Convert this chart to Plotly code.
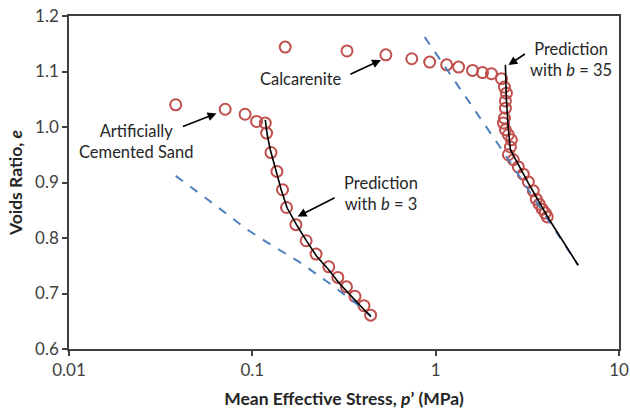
import numpy as np
import plotly.graph_objects as go

# Artificially cemented sand: measured compression data
acs_p = [0.0382, 0.0711, 0.0913, 0.1055, 0.1177, 0.1196, 0.1264, 0.1362, 0.1461,
         0.1536, 0.1728, 0.1966, 0.2227, 0.2612, 0.2926, 0.3263, 0.3629, 0.4062, 0.4417]
acs_e = [1.040, 1.032, 1.023, 1.010, 1.007, 0.989, 0.954, 0.920, 0.887,
         0.855, 0.824, 0.795, 0.771, 0.748, 0.729, 0.712, 0.695, 0.678, 0.661]

# Artificially cemented sand: prediction with b = 3
acs_pred_p = [0.1177, 0.1206, 0.1253, 0.1345, 0.1437, 0.1549, 0.1756, 0.1990,
              0.2255, 0.2622, 0.2972, 0.3629, 0.4434]
acs_pred_e = [1.013, 0.986, 0.959, 0.923, 0.887, 0.854, 0.822, 0.793,
              0.766, 0.742, 0.719, 0.688, 0.658]

# Artificially cemented sand: reference (uncemented) line
acs_ref_p = [0.0382, 0.0606, 0.0928, 0.1192, 0.1801, 0.2722, 0.3584, 0.4434]
acs_ref_e = [0.912, 0.863, 0.816, 0.793, 0.757, 0.715, 0.685, 0.660]

# Calcarenite: measured compression data
cal_p = [0.1511, 0.3284, 0.5349, 0.7406, 0.9278, 1.148, 1.334, 1.589, 1.801, 2.015,
         2.284, 2.371, 2.431, 2.401, 2.401, 2.371, 2.342, 2.401, 2.493, 2.588,
         2.556, 2.493, 2.654, 2.826, 3.008, 3.203, 3.409, 3.539, 3.674, 3.815,
         3.961, 4.061]
cal_e = [1.144, 1.137, 1.130, 1.123, 1.117, 1.112, 1.108, 1.102, 1.098, 1.096,
         1.087, 1.072, 1.061, 1.047, 1.034, 1.016, 1.007, 0.995, 0.986, 0.977,
         0.964, 0.950, 0.941, 0.928, 0.915, 0.901, 0.885, 0.870, 0.861, 0.852,
         0.845, 0.838]

# Calcarenite: prediction with b = 35
cal_pred_p = [2.401, 2.431, 2.493, 2.556, 2.826, 3.203, 4.113, 5.987]
cal_pred_e = [1.112, 1.049, 0.995, 0.959, 0.932, 0.899, 0.836, 0.751]

# Calcarenite: reference line
cal_ref_p = [0.8713, 2.342, 5.987]
cal_ref_e = [1.162, 0.955, 0.751]

x_tick_vals = [0.01, 0.1, 1, 10]
x_tick_text = ["0.01", "0.1", "1", "10"]
y_tick_vals = [0.6, 0.7, 0.8, 0.9, 1.0, 1.1, 1.2]

RED = "#C0504D"
BLUE = "#4F81BD"
INK = "#262626"
AXIS = "#404040"
FONT = "Lato"

marker = dict(symbol="circle-open", size=11, color=RED, line=dict(width=2, color=RED))

fig = go.Figure()
fig.add_trace(go.Scatter(x=acs_p, y=acs_e, mode="markers", marker=marker))
fig.add_trace(go.Scatter(x=cal_p, y=cal_e, mode="markers", marker=marker))
fig.add_trace(go.Scatter(x=acs_ref_p, y=acs_ref_e, mode="lines",
                         line=dict(color=BLUE, width=2, dash="dash")))
fig.add_trace(go.Scatter(x=cal_ref_p, y=cal_ref_e, mode="lines",
                         line=dict(color=BLUE, width=2, dash="dash")))
fig.add_trace(go.Scatter(x=acs_pred_p, y=acs_pred_e, mode="lines",
                         line=dict(color="black", width=1.6)))
fig.add_trace(go.Scatter(x=cal_pred_p, y=cal_pred_e, mode="lines",
                         line=dict(color="black", width=1.6)))

lx = np.log10

# text labels
labels = [
    (0.02312, 0.973, "Artificially<br>Cemented Sand"),
    (0.1846, 1.0865, "Calcarenite"),
    (0.5025, 0.881, "Prediction<br>with <i>b</i> = 3"),
    (5.483, 1.1225, "Prediction<br>with <i>b</i> = 35"),
]
for px, ey, txt in labels:
    fig.add_annotation(x=lx(px), y=ey, text=txt, showarrow=False,
                       font=dict(family=FONT, size=16.5, color=INK), align="center")

# arrows: head position (data) and tail offset (pixels)
arrows = [
    (0.0637, 1.0243, -35, 13.5),
    (0.5025, 1.1207, -32, 15),
    (0.1767, 0.8387, 38.5, -19.5),
    (2.493, 1.1117, 18, -12),
]
for px, ey, ax, ay in arrows:
    fig.add_annotation(x=lx(px), y=ey, ax=ax, ay=ay, text="", showarrow=True,
                       arrowhead=2, arrowsize=1.1, arrowwidth=1.6, arrowcolor="black")

axis_common = dict(showline=True, mirror=True, linecolor=AXIS, linewidth=1.5,
                   ticks="outside", ticklen=5, tickwidth=1.5, tickcolor=AXIS,
                   showgrid=False, zeroline=False, automargin=False,
                   ticklabeloverflow="allow",
                   tickfont=dict(family=FONT, size=17, color=AXIS))

fig.update_xaxes(type="log", range=[-2, 1], tickvals=x_tick_vals, ticktext=x_tick_text,
                 title=dict(text="<b>Mean Effective Stress, <i>p</i>’ (MPa)</b>",
                            font=dict(family=FONT, size=17.5, color=INK), standoff=14),
                 **axis_common)
fig.update_yaxes(range=[0.6, 1.2], tickvals=y_tick_vals, tickformat=".1f",
                 title=dict(text="<b>Voids Ratio, <i>e</i></b>",
                            font=dict(family=FONT, size=17.5, color=INK), standoff=8),
                 **axis_common)

fig.update_layout(width=630, height=413, showlegend=False,
                  margin=dict(l=69, r=11, t=16, b=64),
                  plot_bgcolor="white", paper_bgcolor="white")

fig.write_html("out.html")
